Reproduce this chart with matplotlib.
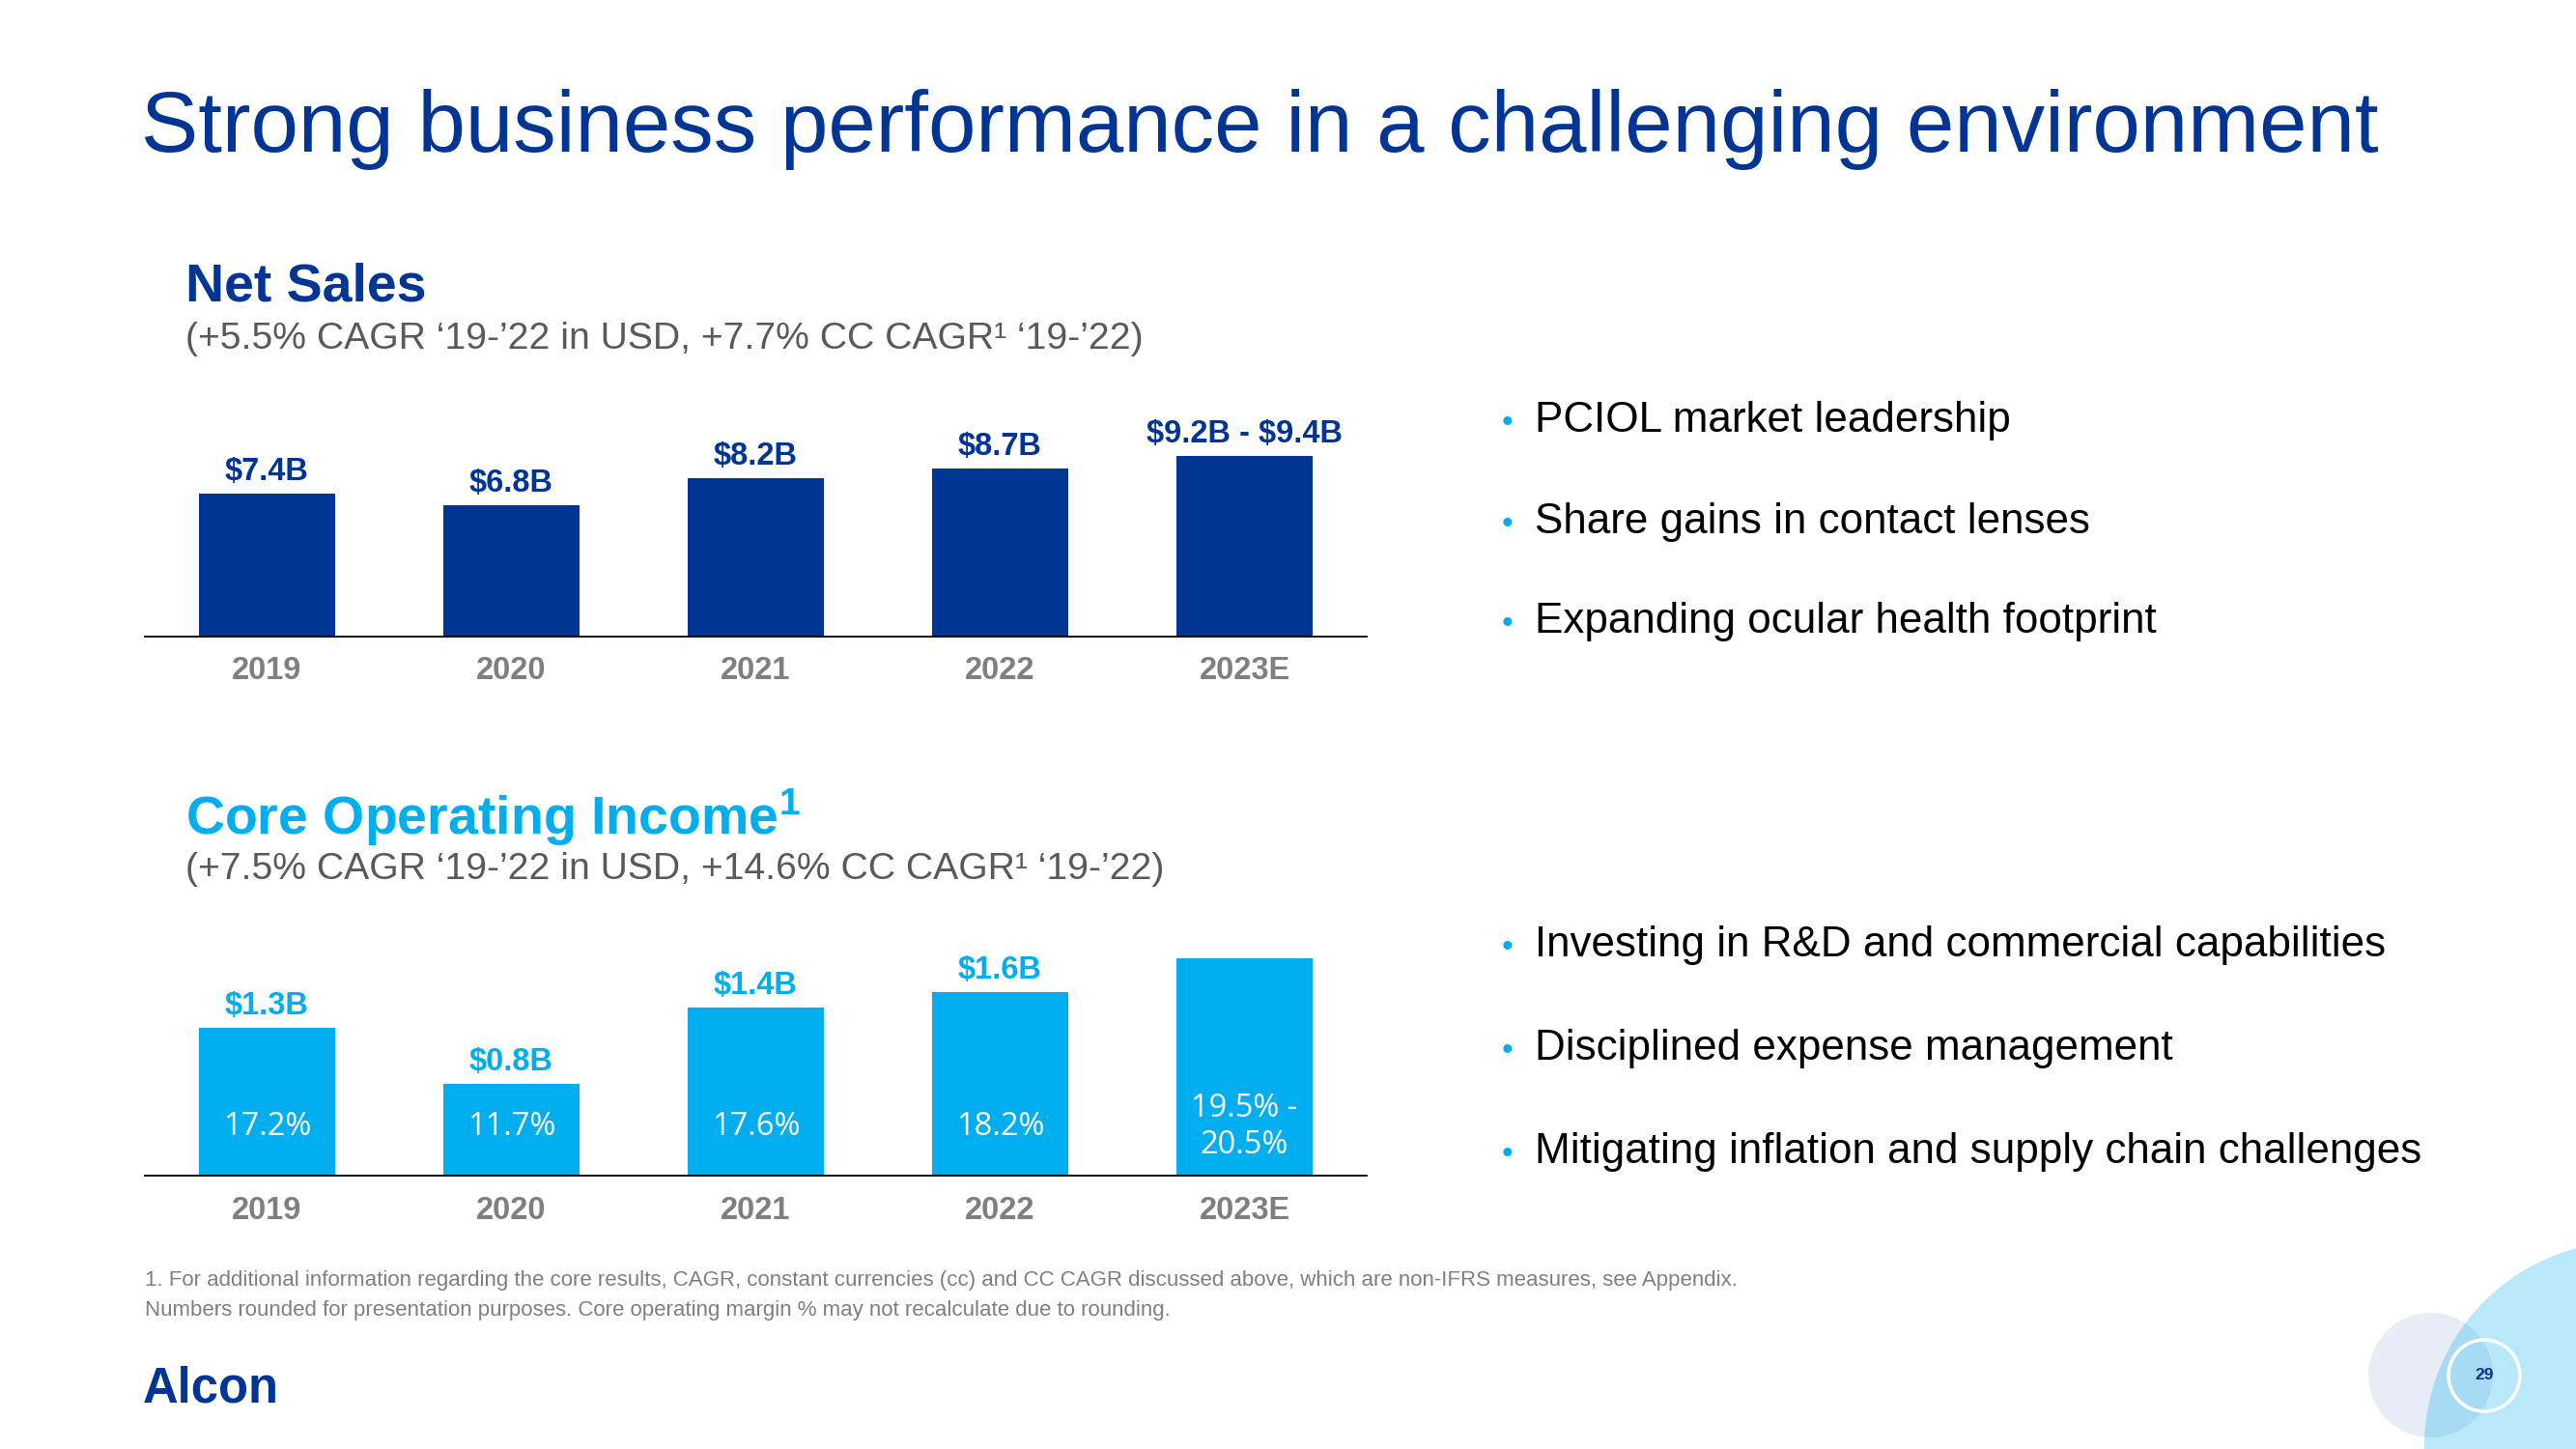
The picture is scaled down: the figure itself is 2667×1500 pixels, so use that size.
import matplotlib
matplotlib.use("Agg")
import matplotlib.pyplot as plt
from matplotlib.patches import Circle
import matplotlib.transforms as mtransforms

plt.rcParams['font.family'] = ['Liberation Sans', 'DejaVu Sans']
plt.rcParams['mathtext.fontset'] = 'custom'
plt.rcParams['mathtext.rm'] = 'Liberation Sans'
plt.rcParams['mathtext.bf'] = 'Liberation Sans:bold'
plt.rcParams['mathtext.it'] = 'Liberation Sans:italic'

# ---------------- data ----------------
years = ["2019", "2020", "2021", "2022", "2023E"]
net_sales = [7.4, 6.8, 8.2, 8.7, 9.35]
net_sales_labels = ["$7.4B", "$6.8B", "$8.2B", "$8.7B", "$9.2B - $9.4B"]
core_oi = [1.27, 0.79, 1.45, 1.58, 1.87]
core_oi_labels = ["$1.3B", "$0.8B", "$1.4B", "$1.6B", ""]
core_margin = ["17.2%", "11.7%", "17.6%", "18.2%", "19.5% -\n20.5%"]

title = "Strong business performance in a challenging environment"
ns_title = "Net Sales"
ns_sub = "(+5.5% CAGR ‘19-’22 in USD, +7.7% CC CAGR¹ ‘19-’22)"
coi_title = r"Core Operating Income$^{\mathbf{1}}$"
coi_sub = "(+7.5% CAGR ‘19-’22 in USD, +14.6% CC CAGR¹ ‘19-’22)"
bullets_top = ["PCIOL market leadership", "Share gains in contact lenses",
               "Expanding ocular health footprint"]
bullets_bottom = ["Investing in R&D and commercial capabilities",
                  "Disciplined expense management",
                  "Mitigating inflation and supply chain challenges"]
footnote1 = ("1. For additional information regarding the core results, CAGR, constant "
             "currencies (cc) and CC CAGR discussed above, which are non-IFRS measures, see Appendix.")
footnote2 = ("Numbers rounded for presentation purposes. Core operating margin % may not "
             "recalculate due to rounding.")
page_no = "29"

DARK = "#003595"
LIGHT = "#00AEEF"
GREY = "#7F7F7F"
SUBGREY = "#595959"

W, H = 2667, 1500
fig = plt.figure(figsize=(W / 100, H / 100), dpi=100)
fig.patch.set_facecolor("white")

bg = fig.add_axes([0, 0, 1, 1])
bg.set_xlim(0, W)
bg.set_ylim(H, 0)
bg.axis("off")


def px_axes(left, top, right, bottom):
    return fig.add_axes([left / W, 1 - bottom / H, (right - left) / W, (bottom - top) / H])


def style_chart(ax):
    ax.patch.set_alpha(0)
    for s in ("top", "left", "right"):
        ax.spines[s].set_visible(False)
    ax.spines["bottom"].set_color("black")
    ax.spines["bottom"].set_linewidth(1.3)
    ax.set_yticks([])
    ax.set_xlim(-0.5, 4.5)
    ax.set_xticks(range(len(years)), years)
    ax.tick_params(axis="x", length=0, pad=15, labelsize=23.5, labelcolor=GREY)
    for lbl in ax.get_xticklabels():
        lbl.set_fontweight("bold")


# ---------------- Net Sales chart ----------------
ax1 = px_axes(150, 420, 1415, 658.5)
ax1.bar(range(len(years)), net_sales, width=0.558, color=DARK)
ax1.set_ylim(0, 238.5 / 19.92)
style_chart(ax1)
for i, (v, lab) in enumerate(zip(net_sales, net_sales_labels)):
    ax1.annotate(lab, (i, v), xytext=(0, 10), textcoords="offset points",
                 ha="center", va="baseline", fontsize=23.5, fontweight="bold",
                 color=DARK, parse_math=False)

# ---------------- Core Operating Income chart ----------------
ax2 = px_axes(150, 960, 1415, 1216.7)
ax2.bar(range(len(years)), core_oi, width=0.558, color=LIGHT)
ax2.set_ylim(0, 256.7 / 120.0)
style_chart(ax2)
blend = mtransforms.blended_transform_factory(ax2.transData, ax2.transAxes)
for i, (v, lab, m) in enumerate(zip(core_oi, core_oi_labels, core_margin)):
    if lab:
        ax2.annotate(lab, (i, v), xytext=(0, 10), textcoords="offset points",
                     ha="center", va="baseline", fontsize=23.5, fontweight="bold",
                     color=LIGHT, parse_math=False)
    ax2.text(i, 0.197, m, transform=blend, ha="center", va="center",
             color="white", fontsize=23.5, family=["Open Sans", "DejaVu Sans"],
             linespacing=1.2, multialignment="center")

# ---------------- texts ----------------
bg.text(146, 157, title, fontsize=64, color=DARK, va="baseline")
bg.text(192, 312, ns_title, fontsize=40, fontweight="bold", color=DARK, va="baseline")
bg.text(192, 361, ns_sub, fontsize=28.15, color=SUBGREY, va="baseline")
bg.text(192, 864, coi_title, fontsize=40, fontweight="bold", color=LIGHT, va="baseline")
bg.text(192, 910, coi_sub, fontsize=28.15, color=SUBGREY, va="baseline")

for y, s in zip([447, 552, 655], bullets_top):
    bg.text(1555, y, "•", fontsize=24, color=LIGHT, va="baseline")
    bg.text(1589, y, s, fontsize=31.7, color="black", va="baseline")
for y, s in zip([990, 1097, 1204], bullets_bottom):
    bg.text(1555, y, "•", fontsize=24, color=LIGHT, va="baseline")
    bg.text(1589, y, s, fontsize=31.7, color="black", va="baseline")

bg.text(150, 1331, footnote1, fontsize=16, color=GREY, va="baseline")
bg.text(150, 1362, footnote2, fontsize=16, color=GREY, va="baseline")

bg.text(148, 1451, "Alcon", fontsize=36.5, fontweight="bold", color=DARK, va="baseline")

# ---------------- decorative circles ----------------
bg.add_patch(Circle((2516.5, 1423.5), 64.5, facecolor=DARK, alpha=0.09, lw=0))
bg.add_patch(Circle((2722, 1497), 212, facecolor=LIGHT, alpha=0.28, lw=0))
bg.add_patch(Circle((2572, 1424), 37, fill=False, edgecolor="white", lw=2.5))
bg.text(2572, 1424, page_no, ha="center", va="center", fontsize=12.5,
        fontweight="bold", color=DARK)

fig.savefig("out.png", dpi=100)
